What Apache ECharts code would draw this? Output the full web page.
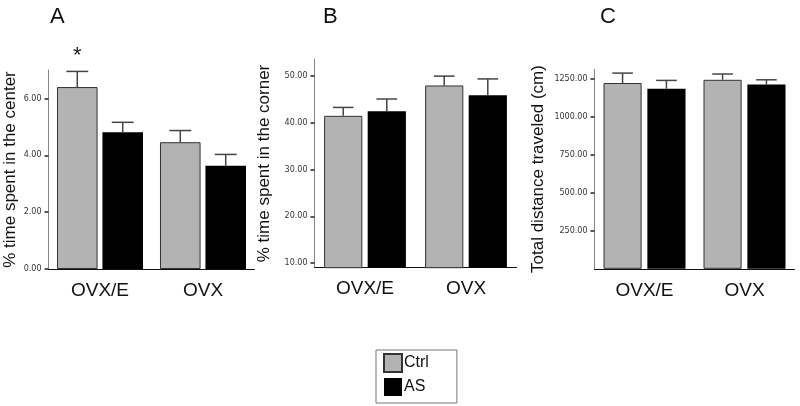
<!DOCTYPE html>
<html><head><meta charset="utf-8">
<script src="https://cdn.jsdelivr.net/npm/echarts@6/dist/echarts.min.js"></script>
<style>html,body{margin:0;padding:0;background:#fff}#c{width:800px;height:406px}</style>
</head><body><div id="c"></div>
<script>
// ---- data ----
const categories = ['OVX/E', 'OVX'];
const groupNames = ['Ctrl', 'AS'];
const panelLetters = ['A', 'B', 'C'];

// Panel A: % time spent in the center
const centerCtrl = [6.40, 4.46];
const centerCtrlSem = [0.55, 0.41];
const centerAS = [4.81, 3.63];
const centerASSem = [0.35, 0.40];
const centerCtrlSig = ['*', ''];
const centerTicks = [0, 2, 4, 6];

// Panel B: % time spent in the corner
const cornerCtrl = [41.5, 48.0];
const cornerCtrlSem = [1.8, 2.0];
const cornerAS = [42.5, 45.9];
const cornerASSem = [2.6, 3.5];
const cornerTicks = [10, 20, 30, 40, 50];

// Panel C: Total distance traveled (cm)
const distCtrl = [1220, 1241];
const distCtrlSem = [65, 38];
const distAS = [1182, 1211];
const distASSem = [55, 30];
const distTicks = [250, 500, 750, 1000, 1250];

const yNames = ['% time spent in the center', '% time spent in the corner', 'Total distance traveled (cm)'];

// ---- layout / style ----
const panels = [
  {ctrl: centerCtrl, ctrlSem: centerCtrlSem, as: centerAS, asSem: centerASSem, sig: centerCtrlSig, ticks: centerTicks,
   min: 0, max: 7, left: 48.5, top: 70, width: 206, height: 199, catGap: 0.165, gap: 0.12, nameGap: 30,
   letterLeft: 45},
  {ctrl: cornerCtrl, ctrlSem: cornerCtrlSem, as: cornerAS, asSem: cornerASSem, sig: ['', ''], ticks: cornerTicks,
   min: 9, max: 53.6, left: 314.5, top: 59.3, width: 202, height: 208.4, catGap: 0.19, gap: 0.14, nameGap: 42,
   letterLeft: 318},
  {ctrl: distCtrl, ctrlSem: distCtrlSem, as: distAS, asSem: distASSem, sig: ['', ''], ticks: distTicks,
   min: 0, max: 1310, left: 594.5, top: 69.3, width: 200, height: 199.5, catGap: 0.18, gap: 0.15, nameGap: 48,
   letterLeft: 595}
];

const SANS = 'Liberation Sans, Arial, sans-serif';
const grids = [], xAxes = [], yAxes = [], series = [], titles = [];

function errRender(cfg, s) {
  return function (params, api) {
    const cat = api.value(0), mean = api.value(1), up = api.value(2);
    const band = api.size([1, 0])[0];
    const w = band * (1 - cfg.catGap) / (2 + cfg.gap);
    const off = (w + w * cfg.gap) / 2 * (s === 0 ? -1 : 1);
    const p0 = api.coord([cat, mean]);
    const p1 = api.coord([cat, up]);
    const x = p0[0] + off;
    const cap = w * 0.27;
    const st = {stroke: '#444', lineWidth: 1.5};
    const children = [
      {type: 'line', shape: {x1: x, y1: p0[1], x2: x, y2: p1[1]}, style: st},
      {type: 'line', shape: {x1: x - cap, y1: p1[1], x2: x + cap, y2: p1[1]}, style: st}
    ];
    const sig = cfg.sig[params.dataIndex];
    if (s === 0 && sig) {
      children.push({type: 'text', style: {text: sig, x: x, y: p1[1] - 15, align: 'center', verticalAlign: 'middle',
        fontSize: 22, fontFamily: SANS, fill: '#222'}});
    }
    return {type: 'group', children: children};
  };
}

panels.forEach((p, i) => {
  grids.push({left: p.left, top: p.top, width: p.width, height: p.height});
  titles.push({text: panelLetters[i], left: p.letterLeft, top: 1,
    textStyle: {fontSize: 22, fontWeight: 'normal', fontFamily: SANS, color: '#111'}});
  xAxes.push({type: 'category', gridIndex: i, data: categories,
    axisLine: {onZero: false, lineStyle: {color: '#111', width: 1}},
    axisTick: {alignWithLabel: true, length: 4, lineStyle: {color: '#111', width: 2}},
    axisLabel: {fontSize: 19, fontFamily: SANS, color: '#111', margin: 12}});
  yAxes.push({type: 'value', gridIndex: i, min: p.min, max: p.max,
    axisLine: {show: true, lineStyle: {color: '#888', width: 1}},
    axisTick: {show: true, length: 4, customValues: p.ticks, lineStyle: {color: '#222', width: 1.5}},
    axisLabel: {customValues: p.ticks, formatter: v => v.toFixed(2), fontSize: 8, fontFamily: 'DejaVu Sans',
      color: '#333', margin: 7},
    splitLine: {show: false},
    name: yNames[i], nameLocation: 'middle', nameGap: p.nameGap,
    nameTextStyle: {fontSize: 17, fontFamily: SANS, color: '#111'}});
  const groups = [[p.ctrl, p.ctrlSem], [p.as, p.asSem]];
  groups.forEach((g, s) => {
    series.push({type: 'bar', name: groupNames[s], xAxisIndex: i, yAxisIndex: i, data: g[0],
      barCategoryGap: (p.catGap * 100) + '%', barGap: (p.gap * 100) + '%',
      itemStyle: s === 0 ? {color: '#b3b3b3', borderColor: '#333', borderWidth: 1} : {color: '#000'},
      emphasis: {disabled: true}});
  });
  groups.forEach((g, s) => {
    series.push({type: 'custom', name: 'err' + i + s, xAxisIndex: i, yAxisIndex: i,
      data: g[0].map((m, k) => [k, m, m + g[1][k]]),
      renderItem: errRender(p, s), z: 3, silent: true});
  });
});

const chart = echarts.init(document.getElementById('c'), null, {renderer: 'canvas'});
chart.setOption({
  animation: false,
  backgroundColor: '#fff',
  title: titles,
  grid: grids, xAxis: xAxes, yAxis: yAxes, series: series,
  legend: {data: [
      {name: 'Ctrl', itemStyle: {color: '#b3b3b3', borderColor: '#333', borderWidth: 2}},
      {name: 'AS', itemStyle: {color: '#000'}}],
    orient: 'vertical', left: 376, top: 350, itemWidth: 18, itemHeight: 18, itemGap: 5,
    icon: 'rect', padding: [3, 28, 7, 7], borderColor: '#777', borderWidth: 1,
    textStyle: {fontSize: 16, fontFamily: SANS, color: '#111', padding: [0, 0, 0, -3]}}
});
</script></body></html>
